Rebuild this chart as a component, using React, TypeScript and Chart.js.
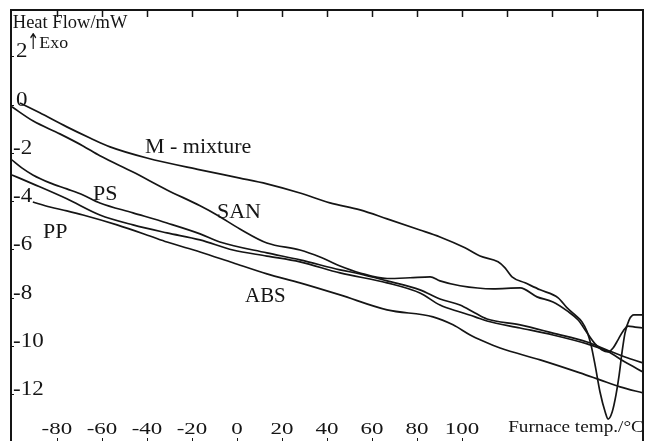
import React, { useEffect, useRef } from "react";
import { Chart, registerables } from "chart.js";

Chart.register(...registerables);

// Furnace temperature (°C) and heat flow (mW)
const mixtureT = [-96.4, -87.6, -75.6, -65.3, -56.4, -40, -16.4, 1.3, 13.3, 28, 41.3, 54.7, 66.7, 81.3, 90.2, 101.3, 108, 116, 119.1, 122.2, 128, 134.7, 142.7, 146.7, 150.2, 153.3, 155.6, 157.3, 159.1, 161.3, 163.6, 164.9, 166.7, 168.4, 169.8, 171.1, 172.4, 174.2, 176.4, 180.4];
const mixtureHF = [-0.18, -0.59, -1.17, -1.63, -2.0, -2.46, -2.95, -3.29, -3.53, -3.91, -4.32, -4.61, -4.98, -5.44, -5.73, -6.18, -6.52, -6.76, -7.01, -7.38, -7.63, -7.92, -8.25, -8.67, -8.96, -9.25, -9.66, -10.2, -11.03, -12.15, -12.98, -13.27, -12.98, -12.27, -11.45, -10.49, -9.71, -9.17, -8.96, -8.96];

const sanT = [-100, -90.7, -78.7, -68.4, -60.9, -46.2, -31.1, -16.4, -8.9, 1.3, 13.3, 28, 36.9, 45.8, 54.7, 66.7, 76.9, 85.8, 90.2, 99.1, 113.8, 125.8, 133.3, 140.4, 146.7, 151.6, 155.6, 159.1, 162.2, 164.9, 167.1, 169.3, 171.6, 173.8, 176.9, 180.4];
const sanHF = [-0.34, -0.92, -1.46, -1.96, -2.37, -3.04, -3.78, -4.44, -4.82, -5.4, -5.98, -6.27, -6.56, -6.93, -7.22, -7.45, -7.42, -7.38, -7.55, -7.75, -7.88, -7.84, -8.21, -8.42, -8.79, -9.17, -9.71, -10.16, -10.41, -10.49, -10.33, -9.99, -9.62, -9.42, -9.46, -9.5];

const psT = [-100, -95.6, -90.7, -83.1, -75.6, -68.4, -60.9, -46.2, -31.1, -16.4, -7.6, 13.3, 28, 45.8, 54.7, 66.7, 81.3, 90.2, 99.1, 105.8, 111.1, 125.8, 140.4, 155.6, 164.4, 172.4, 180.4];
const psHF = [-2.54, -2.87, -3.16, -3.49, -3.74, -3.99, -4.32, -4.73, -5.15, -5.6, -5.94, -6.39, -6.68, -7.09, -7.26, -7.55, -7.92, -8.3, -8.55, -8.88, -9.13, -9.37, -9.71, -10.08, -10.41, -10.7, -10.95];

const absT = [-100, -90.7, -75.6, -60.9, -46.2, -31.1, -16.4, -1.8, 13.3, 28, 45.8, 66.7, 81.3, 90.2, 99.1, 105.8, 111.1, 125.8, 140.4, 155.6, 164.4, 172.4, 180.4];
const absHF = [-3.16, -3.53, -4.15, -4.82, -5.23, -5.56, -5.85, -6.27, -6.52, -6.76, -7.22, -7.63, -8.05, -8.55, -8.84, -9.04, -9.21, -9.5, -9.79, -10.16, -10.45, -10.91, -11.32];

const ppT = [-90.7, -83.1, -75.6, -68.4, -53.3, -38.7, -31.1, -16.4, -1.8, 13.3, 28, 45.8, 66.7, 87.1, 96, 103.6, 109.3, 116.9, 134.7, 152.4, 161.3, 170.2, 180.4];
const ppHF = [-4.28, -4.49, -4.65, -4.82, -5.23, -5.69, -5.94, -6.35, -6.8, -7.26, -7.63, -8.13, -8.75, -9.04, -9.37, -9.79, -10.04, -10.33, -10.82, -11.36, -11.65, -11.94, -12.19];

const yTicks = [2, 0, -2, -4, -6, -8, -10, -12];
const xTicks = [-80, -60, -40, -20, 0, 20, 40, 60, 80, 100];
const topTicks = [-80, -60, -40, -20, 0, 20, 40, 60, 80, 100, 120, 140, 160];

const INK = "#151515";
const FONT = '"Liberation Serif", "Times New Roman", serif';

function toPoints(t: number[], hf: number[]) {
  return t.map((x, i) => ({ x, y: hf[i] }));
}

function drawText(
  ctx: CanvasRenderingContext2D,
  s: string,
  x: number,
  y: number,
  size: number,
  sx: number,
  align: "left" | "center" = "left",
  fontFamily: string = FONT
) {
  ctx.save();
  ctx.font = `${size}px ${fontFamily}`;
  ctx.textBaseline = "alphabetic";
  ctx.textAlign = "left";
  ctx.fillStyle = INK;
  const w = ctx.measureText(s).width * sx;
  const left = align === "center" ? x - w / 2 : x;
  ctx.translate(left, y);
  ctx.scale(sx, 1);
  ctx.fillText(s, 0, 0);
  ctx.restore();
}

const decorPlugin = {
  id: "dscDecor",
  afterDraw(chart: any) {
    const ctx: CanvasRenderingContext2D = chart.ctx;
    const xs = chart.scales.x;
    const ys = chart.scales.y;
    const { left, right, top, bottom } = chart.chartArea;
    ctx.save();
    ctx.strokeStyle = INK;
    ctx.lineWidth = 2;
    ctx.beginPath();
    ctx.moveTo(left, bottom);
    ctx.lineTo(left, top);
    ctx.lineTo(right, top);
    ctx.lineTo(right, bottom);
    ctx.stroke();
    ctx.lineWidth = 1.5;
    topTicks.forEach((v) => {
      const px = Math.round(xs.getPixelForValue(v)) + 0.5;
      ctx.beginPath();
      ctx.moveTo(px, top);
      ctx.lineTo(px, top + 7);
      ctx.stroke();
    });
    ctx.lineWidth = 1;
    xTicks.forEach((v) => {
      const px = Math.round(xs.getPixelForValue(v)) + 0.5;
      ctx.beginPath();
      ctx.moveTo(px, bottom - 3);
      ctx.lineTo(px, bottom);
      ctx.stroke();
    });
    yTicks.forEach((v) => {
      const py = Math.round(ys.getPixelForValue(v)) + 6.5;
      ctx.beginPath();
      ctx.moveTo(left, py);
      ctx.lineTo(left + 3, py);
      ctx.stroke();
    });
    ctx.restore();

    yTicks.forEach((v) => {
      const py = ys.getPixelForValue(v);
      drawText(ctx, String(v), v >= 0 ? left + 5 : left + 2, py + 7, 20, 1.15);
    });
    xTicks.forEach((v) => {
      const px = xs.getPixelForValue(v);
      drawText(ctx, String(v), px, bottom - 7, 17, 1.35, "center");
    });
    drawText(ctx, "Furnace temp./°C", xs.getPixelForValue(120.5), bottom - 9, 17, 1.13);

    drawText(ctx, "Heat Flow/mW", xs.getPixelForValue(-99.6), ys.getPixelForValue(2.93), 18.5, 1);
    drawText(ctx, "↑", xs.getPixelForValue(-93.2), ys.getPixelForValue(2.05), 22, 0.65, "left", '"DejaVu Sans", sans-serif');
    drawText(ctx, "Exo", xs.getPixelForValue(-87.8), ys.getPixelForValue(2.1), 17, 1.05);

    drawText(ctx, "M - mixture", xs.getPixelForValue(-40.9), ys.getPixelForValue(-2.25), 22, 1);
    drawText(ctx, "PS", xs.getPixelForValue(-64), ys.getPixelForValue(-4.2), 22, 1);
    drawText(ctx, "SAN", xs.getPixelForValue(-8.9), ys.getPixelForValue(-4.94), 22, 1);
    drawText(ctx, "PP", xs.getPixelForValue(-86.2), ys.getPixelForValue(-5.77), 22, 1);
    drawText(ctx, "ABS", xs.getPixelForValue(3.6), ys.getPixelForValue(-8.42), 22, 0.95);
  },
};

export default function App() {
  const ref = useRef<HTMLCanvasElement | null>(null);

  useEffect(() => {
    if (!ref.current) return;
    const lineStyle = {
      borderColor: INK,
      backgroundColor: INK,
      borderWidth: 1.7,
      pointRadius: 0,
      fill: false,
      cubicInterpolationMode: "monotone" as const,
    };
    const chart = new Chart(ref.current, {
      type: "line",
      data: {
        datasets: [
          { label: "M - mixture", data: toPoints(mixtureT, mixtureHF), ...lineStyle },
          { label: "SAN", data: toPoints(sanT, sanHF), ...lineStyle },
          { label: "PS", data: toPoints(psT, psHF), ...lineStyle },
          { label: "ABS", data: toPoints(absT, absHF), ...lineStyle },
          { label: "PP", data: toPoints(ppT, ppHF), ...lineStyle },
        ],
      },
      options: {
        animation: false,
        responsive: true,
        maintainAspectRatio: false,
        layout: { padding: { left: 11, top: 10, right: 2, bottom: 0 } },
        plugins: { legend: { display: false }, tooltip: { enabled: false } },
        scales: {
          x: { type: "linear", min: -100.4, max: 180.4, display: false },
          y: { type: "linear", min: -14.18, max: 3.67, display: false },
        },
      },
      plugins: [decorPlugin],
    });
    return () => chart.destroy();
  }, []);

  return (
    <div
      style={{
        position: "fixed",
        left: 0,
        top: 0,
        width: 645,
        height: 441,
        background: "#ffffff",
      }}
    >
      <canvas ref={ref} />
    </div>
  );
}
